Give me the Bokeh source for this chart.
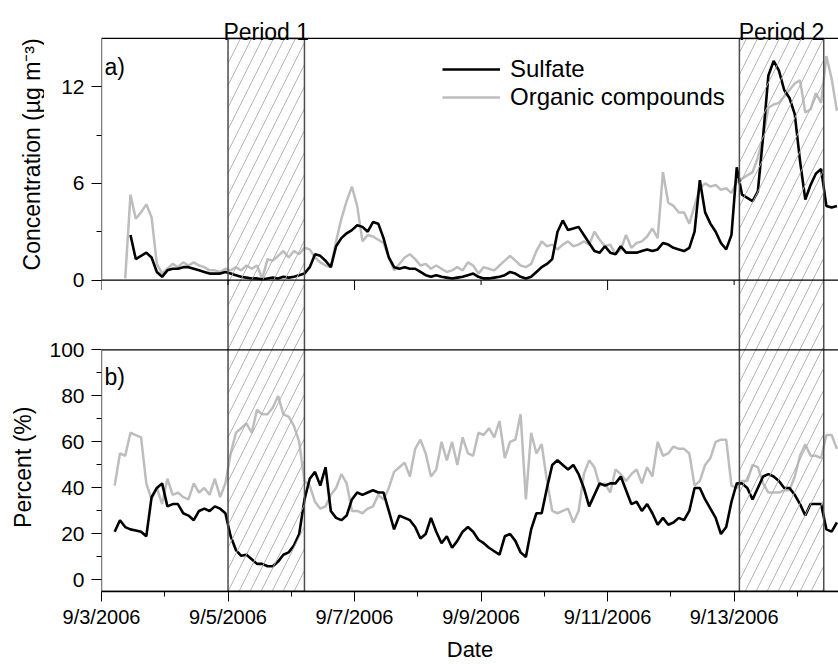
from math import pi
import numpy as np
from bokeh.plotting import figure
from bokeh.layouts import row
from bokeh.models import (Range1d, FixedTicker, Label, BoxAnnotation,
                          ColumnDataSource, Legend, LegendItem)
from bokeh.embed import file_html
from bokeh.resources import INLINE

nan = float("nan")

# hours after 9/3/2006 00:00
HOURS = [5, 7, 9, 11, 13, 15, 17, 19, 21, 23,
         25, 27, 29, 31, 33, 35, 37, 39, 41, 43,
         45, 47, 49, 51, 53, 55, 57, 59, 61, 63,
         65, 67, 69, 71, 73, 75, 77, 79, 81, 83,
         85, 87, 89, 91, 93, 95, 97, 99, 101, 103,
         105, 107, 109, 111, 113, 115, 117, 119, 121, 123,
         125, 127, 129, 131, 133, 135, 137, 139, 141, 143,
         145, 147, 149, 151, 153, 155, 157, 159, 161, 163,
         165, 167, 169, 171, 173, 175, 177, 179, 181, 183,
         185, 187, 189, 191, 193, 195, 197, 199, 201, 203,
         205, 207, 209, 211, 213, 215, 217, 219, 221, 223,
         225, 227, 229, 231, 233, 235, 237, 239, 241, 243,
         245, 247, 249, 251, 253, 255, 257, 259, 261, 263,
         265, 267, 269, 271, 273, 275, 277, 279]

SULFATE_CONC = [nan, nan, nan, 2.8, 1.3, 1.5, 1.7, 1.4, 0.5, 0.2,
                0.6, 0.7, 0.7, 0.8, 0.8, 0.7, 0.6, 0.5, 0.4, 0.4,
                0.4, 0.5, 0.4, 0.3, 0.2, 0.15, 0.1, 0.1, 0.05, 0.1,
                0.15, 0.1, 0.2, 0.15, 0.2, 0.3, 0.4, 0.8, 1.6, 1.5,
                1.2, 0.8, 2.1, 2.6, 2.9, 3.1, 3.4, 3.3, 3.0, 3.6,
                3.5, 2.6, 1.4, 0.8, 0.7, 0.8, 0.7, 0.7, 0.5, 0.3,
                0.2, 0.3, 0.2, 0.15, 0.1, 0.15, 0.2, 0.3, 0.4, 0.2,
                0.1, 0.1, 0.15, 0.2, 0.3, 0.5, 0.4, 0.2, 0.1, 0.2,
                0.5, 0.8, 1.0, 1.3, 3.0, 3.7, 3.1, 3.2, 3.3, 2.8,
                2.3, 1.8, 1.7, 2.1, 1.7, 1.6, 2.1, 1.7, 1.7, 1.7,
                1.8, 1.9, 1.8, 1.9, 2.3, 2.2, 2.0, 1.9, 1.8, 2.0,
                3.0, 6.2, 4.2, 3.5, 3.0, 2.3, 1.9, 2.8, 7.0, 5.3,
                5.1, 4.9, 5.5, 8.9, 12.7, 13.6, 13.0, 11.8, 11.3, 10.3,
                7.4, 5.0, 5.9, 6.6, 6.9, 4.6, 4.5, 4.6]

ORGANIC_CONC = [nan, nan, 0.1, 5.3, 3.8, 4.2, 4.7, 3.9, 1.0, 0.4,
                0.7, 1.0, 0.8, 1.1, 0.9, 1.1, 0.9, 0.8, 0.6, 0.6,
                0.5, 0.7, 0.6, 0.8, 0.6, 0.9, 0.7, 0.9, 0.1, 1.3,
                1.2, 1.5, 1.8, 1.4, 1.8, 1.6, 2.0, 1.9, 1.4, 1.1,
                0.9, 0.8, 2.4, 3.8, 4.9, 5.8, 4.6, 2.4, 2.8, 2.7,
                2.5, 2.3, 1.4, 0.6, 1.0, 1.4, 1.6, 1.3, 0.9, 1.0,
                0.7, 0.9, 0.7, 0.5, 0.6, 0.8, 0.6, 1.1, 0.9, 0.4,
                0.8, 0.7, 0.6, 0.9, 1.2, 1.5, 1.2, 0.9, 0.8, 1.0,
                1.8, 2.4, 2.1, 2.2, 1.9, 2.2, 2.4, 2.1, 2.2, 2.4,
                2.2, 3.0, 2.5, 2.1, 2.2, 1.6, 1.9, 2.8, 2.0, 2.3,
                2.4, 2.7, 3.2, 2.6, 6.7, 4.8, 4.6, 4.2, 4.2, 3.5,
                4.6, 5.7, 6.0, 5.8, 5.9, 5.6, 5.7, 5.4, 6.1, 6.3,
                6.5, 6.7, 7.6, 8.9, 10.7, 10.9, 11.0, 11.4, 11.8, 12.2,
                12.4, 10.4, 10.6, 11.6, 11.0, 13.9, 12.5, 10.5]

SULFATE_PCT = [21, 26, 23, 22, 21.5, 21, 19, 36, 40, 42,
               32, 33, 33, 29, 28, 26, 30, 31, 30, 32,
               31, 29, 19, 13, 10.5, 11, 9, 7, 7, 6,
               6, 8, 11, 12, 15, 20, 35, 44, 47, 41,
               49, 30, 27, 26, 28, 35, 38, 37, 38, 39,
               38, 38, 30, 22, 28, 27, 26, 23, 18, 20,
               27, 21, 16, 19, 14, 17, 21, 23, 21, 17.5,
               16, 14, 12.5, 11, 19, 20, 17, 12, 10, 22,
               29, 29, 40, 50, 52, 50, 48, 50, 46, 40,
               32, 37, 42, 41, 42, 42, 45, 39, 33, 34,
               30, 33, 29, 24, 27, 24, 25, 27, 26, 30,
               40, 40, 35, 31, 27, 20, 23, 34, 42, 42,
               40, 35, 40, 45, 46, 45, 43, 40, 40, 37,
               33, 28, 33, 33, 33, 22, 21, 25]

ORGANIC_PCT = [41, 55, 54, 64, 63, 62, 42, 35, 40, 33,
               44, 37, 38, 36, 35, 42, 38, 40, 37, 44,
               36, 42, 55, 64, 66, 68, 64, 74, 72, 72,
               75, 80, 72, 71, 67, 60, 43, 41, 34, 31,
               32, 37, 40, 46, 42, 30, 30, 29, 31, 32,
               37, 35, 40, 47, 49, 51, 45, 57, 61, 55,
               45, 48, 60, 52, 60, 50, 62, 55, 54, 64,
               63, 66, 62, 69, 53, 60, 61, 72, 35, 64,
               55, 59, 43, 30, 29, 30, 31, 25, 30, 46,
               52, 49, 41, 42, 38, 48, 46, 43, 46, 48,
               42, 49, 45, 60, 54, 55, 58, 57, 57, 55,
               41, 43, 50, 53, 60, 61, 61, 41, 40, 43,
               43, 50, 49, 42, 38, 38, 38, 39, 39, 45,
               54, 59, 54, 54, 53, 63, 63, 57]

DATE_TICK_HOURS = [0, 48, 96, 144, 192, 240]
DATE_TICK_LABELS = ["9/3/2006", "9/5/2006", "9/7/2006", "9/9/2006", "9/11/2006", "9/13/2006"]
DATE_MINOR_HOURS = [24, 72, 120, 168, 216, 264]
TOP_MAJOR_HOURS = [0, 96, 192]
TOP_MINOR_HOURS = [48, 144, 240]
CONC_TICKS = [0, 6, 12]
CONC_MINOR = [3, 9]
PCT_TICKS = [0, 20, 40, 60, 80, 100]
PCT_MINOR = [10, 30, 50, 70, 90]
PERIOD_NAMES = ["Period 1", "Period 2"]
PERIOD_START = [48, 242]
PERIOD_END = [77, 274]

# ---- layout ----
X_END = 279.6
CONC_LO, CONC_HI = 0, 15
PCT_LO, PCT_HI = -5, 100
PANEL_PX, GAP_PX, TOP_PAD_PX = 242, 70, 38
TITLE_W = 44
FONT = "Liberation Sans"
GRAY = "#bdbdbd"

pct_per_px = (PCT_HI - PCT_LO) / PANEL_PX
conc_per_px = (CONC_HI - CONC_LO) / PANEL_PX
y_main = Range1d(PCT_LO, PCT_LO + (2 * PANEL_PX + GAP_PX + TOP_PAD_PX) * pct_per_px)
y_conc = Range1d(CONC_LO - (PANEL_PX + GAP_PX) * conc_per_px, CONC_HI + TOP_PAD_PX * conc_per_px)


def conc_on_main(c):
    return PCT_LO + (PANEL_PX + GAP_PX + (c - CONC_LO) / conc_per_px) * pct_per_px


p = figure(width=838 - TITLE_W, height=664, x_range=Range1d(0, X_END), y_range=y_main,
           output_backend="svg", toolbar_location=None,
           min_border_left=101 - TITLE_W, min_border_right=0, min_border_top=0, min_border_bottom=72)
p.extra_y_ranges = {"conc": y_conc}
p.outline_line_color = None
p.xgrid.visible = False
p.ygrid.visible = False
p.background_fill_color = "white"
p.border_fill_color = "white"

src = ColumnDataSource(dict(h=np.array(HOURS, dtype=float),
                            sc=np.array(SULFATE_CONC, dtype=float),
                            oc=np.array(ORGANIC_CONC, dtype=float),
                            sp=np.array(SULFATE_PCT, dtype=float),
                            op=np.array(ORGANIC_PCT, dtype=float)))

og1 = p.line("h", "oc", source=src, y_range_name="conc", line_color=GRAY, line_width=2.5)
sl1 = p.line("h", "sc", source=src, y_range_name="conc", line_color="black", line_width=2.6)
p.line("h", "op", source=src, line_color=GRAY, line_width=2.5)
p.line("h", "sp", source=src, line_color="black", line_width=2.6)

# hatched periods spanning both panels (from the bottom of panel b to the top of panel a)
n_per = len(PERIOD_START)
psrc = ColumnDataSource(dict(left=PERIOD_START, right=PERIOD_END,
                             bottom=[PCT_LO] * n_per,
                             top=[conc_on_main(CONC_HI)] * n_per))
p.quad(left="left", right="right", bottom="bottom", top="top", source=psrc,
       fill_color=None, line_color=None,
       hatch_pattern="/", hatch_color="#ababab", hatch_scale=22, hatch_weight=0.9)
p.quad(left="left", right="right", bottom="bottom", top="top", source=psrc,
       fill_color=None, line_color="#4d4d4d", line_width=1.5)

# panel frames (open on the right, as in the original)
p.add_layout(BoxAnnotation(left=0, right=X_END + 20, bottom=CONC_LO, top=CONC_HI, y_range_name="conc",
                           fill_color=None, fill_alpha=0, line_color="black", line_width=1.3,
                           line_alpha=1))
p.add_layout(BoxAnnotation(left=0, right=X_END + 20, bottom=PCT_LO, top=PCT_HI,
                           fill_color=None, fill_alpha=0, line_color="black", line_width=1.3,
                           line_alpha=1))

# tick marks of the upper panel's date axis
p.segment(x0=TOP_MAJOR_HOURS, x1=TOP_MAJOR_HOURS, y0=[CONC_LO] * 3, y1=[CONC_LO - 10 * conc_per_px] * 3,
          y_range_name="conc", line_color="black", line_width=1)
p.segment(x0=TOP_MINOR_HOURS, x1=TOP_MINOR_HOURS, y0=[CONC_LO] * 3, y1=[CONC_LO - 5 * conc_per_px] * 3,
          y_range_name="conc", line_color="black", line_width=1)

# y axis (both panels)
ya = p.yaxis[0]
ya.ticker = FixedTicker(ticks=PCT_TICKS + [conc_on_main(c) for c in CONC_TICKS],
                        minor_ticks=PCT_MINOR + [conc_on_main(c) for c in CONC_MINOR])
overrides = {t: str(t) for t in PCT_TICKS}
overrides.update({conc_on_main(c): str(c) for c in CONC_TICKS})
ya.major_label_overrides = overrides
ya.axis_line_color = None
ya.major_tick_out = 10
ya.major_tick_in = 0
ya.minor_tick_out = 5
ya.minor_tick_in = 0
ya.major_tick_line_color = "black"
ya.minor_tick_line_color = "black"
ya.major_label_standoff = 7
ya.major_label_text_font = FONT
ya.major_label_text_font_size = "21px"
ya.major_label_text_color = "black"

xa = p.xaxis[0]
xa.ticker = FixedTicker(ticks=DATE_TICK_HOURS, minor_ticks=DATE_MINOR_HOURS)
xa.major_label_overrides = dict(zip(DATE_TICK_HOURS, DATE_TICK_LABELS))
xa.axis_line_color = "black"
xa.axis_line_width = 1.3
xa.major_tick_out = 10
xa.major_tick_in = 0
xa.minor_tick_out = 5
xa.minor_tick_in = 0
xa.major_tick_line_color = "black"
xa.minor_tick_line_color = "black"
xa.major_label_standoff = 4
xa.major_label_text_font = FONT
xa.major_label_text_font_size = "20px"
xa.major_label_text_color = "black"
xa.axis_label = "Date"
xa.axis_label_text_font = FONT
xa.axis_label_text_font_size = "22px"
xa.axis_label_text_font_style = "normal"
xa.axis_label_text_color = "black"
xa.axis_label_standoff = 6

# panel tags
p.add_layout(Label(x=0, y=CONC_HI, y_range_name="conc", x_offset=3, y_offset=-29, text="a)",
                   text_baseline="alphabetic", text_font=FONT, text_font_size="23px", text_color="black"))
p.add_layout(Label(x=0, y=PCT_HI, x_offset=3, y_offset=-27, text="b)",
                   text_baseline="alphabetic", text_font=FONT, text_font_size="23px", text_color="black"))

# period titles
for name, a, b in zip(PERIOD_NAMES, PERIOD_START, PERIOD_END):
    p.add_layout(Label(x=(a + b) / 2, y=CONC_HI, y_range_name="conc", y_offset=6, text=name,
                       text_align="center", text_baseline="alphabetic",
                       text_font=FONT, text_font_size="23px", text_color="black"))

legend = Legend(items=[LegendItem(label="Sulfate", renderers=[sl1]),
                       LegendItem(label="Organic compounds", renderers=[og1])],
                location=(341, 480), glyph_width=58, glyph_height=28, label_height=28,
                label_standoff=10, padding=0, margin=0, spacing=0,
                border_line_color=None, background_fill_alpha=0,
                label_text_font=FONT, label_text_font_size="24px", label_text_color="black")
p.add_layout(legend)

# strip on the left that carries the two vertical axis titles
t = figure(width=TITLE_W, height=664, x_range=Range1d(0, TITLE_W), y_range=y_main,
           output_backend="svg", toolbar_location=None,
           x_axis_location=None, y_axis_location=None,
           min_border_left=0, min_border_right=0, min_border_top=0, min_border_bottom=72)
t.extra_y_ranges = {"conc": y_conc}
t.outline_line_color = None
t.xgrid.visible = False
t.ygrid.visible = False
t.add_layout(Label(x=31, y=7.8, y_range_name="conc", text="Concentration (µg m⁻³)",
                   angle=pi / 2, text_align="center", text_baseline="middle",
                   text_font=FONT, text_font_size="23px", text_color="black"))
t.add_layout(Label(x=22, y=49, text="Percent (%)",
                   angle=pi / 2, text_align="center", text_baseline="middle",
                   text_font=FONT, text_font_size="23px", text_color="black"))

layout = row(t, p, spacing=0)
open("out.html", "w").write(file_html(layout, INLINE))
